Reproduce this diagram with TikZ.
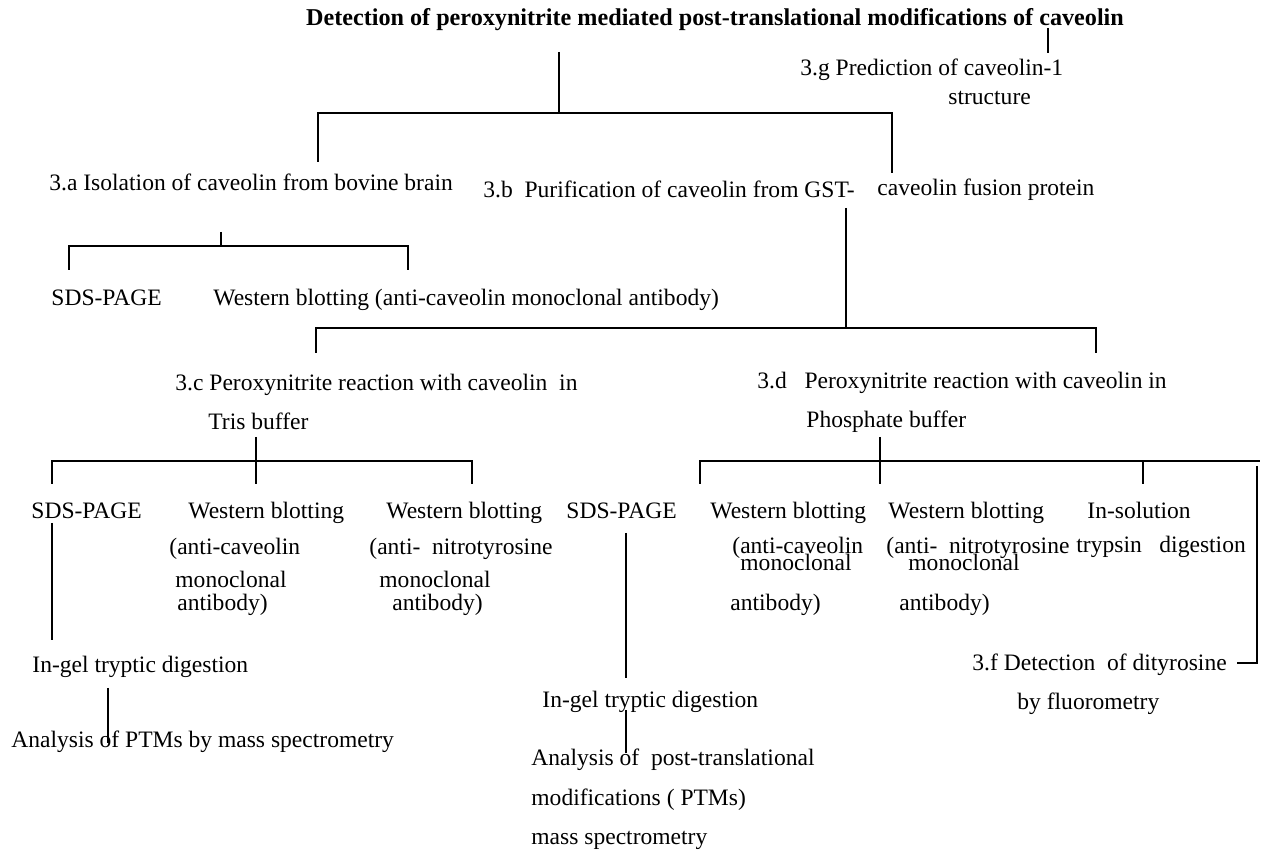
\documentclass[tikz,border=0pt]{standalone}
\usepackage{fontspec}
\setmainfont{LiberationSerif}[Extension=.ttf,UprightFont=*-Regular,BoldFont=*-Bold,ItalicFont=*-Italic,BoldItalicFont=*-BoldItalic]
\begin{document}
\begin{tikzpicture}[x=0.48pt,y=-0.48pt,
  txt/.style={anchor=west,inner sep=0pt,text height=9pt,text depth=2pt,font=\rmfamily\fontsize{11.3}{14}\selectfont},
  ttl/.style={anchor=center,inner sep=0pt,text height=9pt,text depth=2pt,font=\rmfamily\fontsize{11.6}{14}\selectfont\bfseries},
  ln/.style={line width=0.6pt,black}]
\useasboundingbox[fill=white] (0,0) rectangle (1271,854);
% texts
\node[ttl] (title) at (715,18) {Detection of peroxynitrite mediated post-translational modifications of caveolin};
\node[txt] (g1) at (800,68) {3.g Prediction of caveolin-1};
\node[txt] (g2) at (948,97) {structure};
\node[txt] (a) at (49,183) {3.a Isolation of caveolin from bovine brain};
\node[txt] (b) at (483,190) {3.b\ \ Purification of caveolin from GST-};
\node[txt] (fus) at (877,188) {caveolin fusion protein};
\node[txt] (sdsA) at (51,298) {SDS-PAGE};
\node[txt] (wbA) at (213,298) {Western blotting (anti-caveolin monoclonal antibody)};
\node[txt] (c) at (175,383) {3.c Peroxynitrite reaction with caveolin\ \ in};
\node[txt] (tris) at (208,422) {Tris buffer};
\node[txt] (d) at (757,381) {3.d\hspace{0.75em}Peroxynitrite reaction with caveolin in};
\node[txt] (phos) at (806,420) {Phosphate buffer};
\node[txt] (sdsB) at (31,511) {SDS-PAGE};
\node[txt] (wbBa) at (188,511) {Western blotting};
\node[txt] (wbBb) at (169,547) {(anti-caveolin};
\node[txt] (wbBc) at (175,580) {monoclonal};
\node[txt] (wbBd) at (177,603) {antibody)};
\node[txt] (wbCa) at (386,511) {Western blotting};
\node[txt] (wbCb) at (369,547) {(anti-\ \ nitrotyrosine};
\node[txt] (wbCc) at (379,580) {monoclonal};
\node[txt] (wbCd) at (392,603) {antibody)};
\node[txt] (sdsC) at (566,511) {SDS-PAGE};
\node[txt] (wbDa) at (710,511) {Western blotting};
\node[txt] (wbDb) at (732,546) {(anti-caveolin};
\node[txt] (wbDc) at (740,563) {monoclonal};
\node[txt] (wbDd) at (730,603) {antibody)};
\node[txt] (wbEa) at (888,511) {Western blotting};
\node[txt] (wbEb) at (886,546) {(anti-\ \ nitrotyrosine};
\node[txt] (wbEc) at (908,563) {monoclonal};
\node[txt] (wbEd) at (899,603) {antibody)};
\node[txt] (solA) at (1087,511) {In-solution};
\node[txt] (solB) at (1076,545) {trypsin\ \ \ digestion};
\node[txt] (fA) at (972,663) {3.f Detection\ \ of dityrosine};
\node[txt] (fB) at (1017,702) {by fluorometry};
\node[txt] (igA) at (32,665) {In-gel tryptic digestion};
\node[txt] (anA) at (11,740) {Analysis of PTMs by mass spectrometry};
\node[txt] (igB) at (542,700) {In-gel tryptic digestion};
\node[txt] (anBa) at (531,758) {Analysis of\ \ post-translational};
\node[txt] (anBb) at (531,798) {modifications ( PTMs)};
\node[txt] (anBc) at (531,837) {mass spectrometry};
% junction coordinates
\coordinate (t1) at (1048,28); \coordinate (t2) at (1048,53);
\coordinate (r0) at (559,52); \coordinate (r1) at (559,113);
\coordinate (r2) at (318,113); \coordinate (r3) at (318,162);
\coordinate (r4) at (892,113); \coordinate (r5) at (892,173);
\coordinate (s0) at (221,232); \coordinate (s1) at (221,246);
\coordinate (s2) at (69,246); \coordinate (s3) at (69,270);
\coordinate (s4) at (408,246); \coordinate (s5) at (408,270);
\coordinate (p0) at (846,208); \coordinate (p1) at (846,328);
\coordinate (p2) at (316,328); \coordinate (p3) at (316,353);
\coordinate (p4) at (1096,328); \coordinate (p5) at (1096,353);
\coordinate (u0) at (256,437); \coordinate (u1) at (256,461); \coordinate (u2) at (256,484);
\coordinate (u3) at (52,461); \coordinate (u4) at (52,484);
\coordinate (u5) at (472,461); \coordinate (u6) at (472,484);
\coordinate (v0) at (880,437); \coordinate (v1) at (880,461); \coordinate (v2) at (880,484);
\coordinate (v3) at (700,461); \coordinate (v4) at (700,484);
\coordinate (v5) at (1260,461);
\coordinate (v6) at (1143,461); \coordinate (v7) at (1143,484);
\coordinate (w0) at (1257,466); \coordinate (w1) at (1257,663); \coordinate (w2) at (1237,663);
\coordinate (x0) at (52,523); \coordinate (x1) at (52,640);
\coordinate (x2) at (108,688); \coordinate (x3) at (108,743);
\coordinate (y0) at (626,533); \coordinate (y1) at (626,678);
\coordinate (y2) at (626,710); \coordinate (y3) at (626,753);
% connectors
\draw[ln] (t1) -- (t2);
\draw[ln] (r0) -- (r1);
\draw[ln] (r3) -- (r2) -- (r4) -- (r5);
\draw[ln] (s0) -- (s1);
\draw[ln] (s3) -- (s2) -- (s4) -- (s5);
\draw[ln] (p0) -- (p1);
\draw[ln] (p3) -- (p2) -- (p4) -- (p5);
\draw[ln] (u0) -- (u2);
\draw[ln] (u4) -- (u3) -- (u5) -- (u6);
\draw[ln] (v0) -- (v2);
\draw[ln] (v4) -- (v3) -- (v5);
\draw[ln] (v6) -- (v7);
\draw[ln] (w0) -- (w1) -- (w2);
\draw[ln] (x0) -- (x1);
\draw[ln] (x2) -- (x3);
\draw[ln] (y0) -- (y1);
\draw[ln] (y2) -- (y3);
\end{tikzpicture}
\end{document}
